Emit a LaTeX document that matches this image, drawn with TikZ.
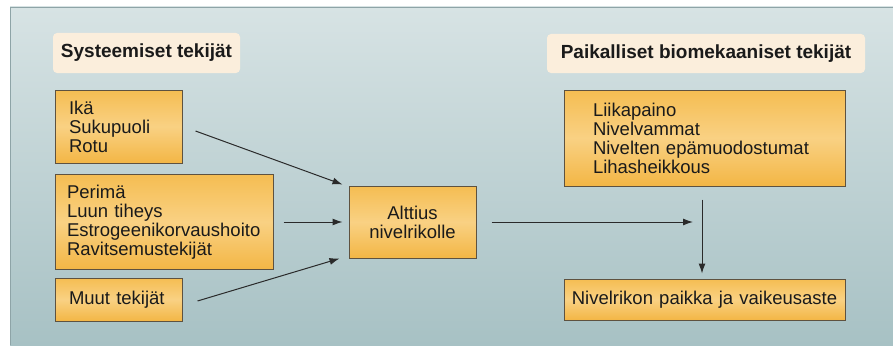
\documentclass[tikz,border=0pt]{standalone}
\usepackage{fontspec}
\setmainfont{Liberation Sans}
\usetikzlibrary{arrows.meta}
\definecolor{paneltop}{HTML}{D7E3E4}
\definecolor{panelbot}{HTML}{A7C1C4}
\definecolor{boxtop}{HTML}{F5BD52}
\definecolor{boxmid}{HTML}{F9D183}
\definecolor{boxbot}{HTML}{F3B645}
\definecolor{boxline}{HTML}{5E5240}
\definecolor{headfill}{HTML}{FBEEDC}
\definecolor{arrcol}{HTML}{2A2A2A}
\definecolor{txt}{HTML}{1A1A1A}
\tikzset{
  box/.style={draw=boxline, line width=1pt, top color=boxtop, bottom color=boxbot, middle color=boxmid,
    rectangle, inner ysep=0pt, align=left, text=txt,
    font=\fontsize{18.5}{19}\selectfont},
  head/.style={fill=headfill, rounded corners=4pt, inner sep=0pt, text=txt,
    font=\fontsize{19}{20}\selectfont\bfseries},
  arr/.style={draw=arrcol, line width=1pt, -{Latex[length=10pt,width=7pt]}}
}
\begin{document}
\begin{tikzpicture}[x=1pt,y=-1pt]
\useasboundingbox (0,0) rectangle (893,345);
\fill[top color=paneltop, bottom color=panelbot] (10,7) rectangle (893,345);
\draw[draw=panelbot!85!black, line width=0.8pt] (10,345) -- (10,7) -- (893,7);

\node[head, minimum width=187, minimum height=40] (h1) at (146.5,53) {Systeemiset tekijät};
\node[head, minimum width=318, minimum height=39] (h2) at (706,53.5) {Paikalliset biomekaaniset tekijät};

\node[box, minimum width=127, minimum height=73, inner xsep=14, text width=99] (b1) at (118.5,126.5)
  {Ikä\\Sukupuoli\\Rotu};
\node[box, minimum width=218, minimum height=95, inner xsep=12, text width=194] (b2) at (164,222)
  {Perimä\\Luun tiheys\\Estrogeenikorvaushoito\\Ravitsemustekijät};
\node[box, minimum width=127, minimum height=43, inner xsep=14, text width=99] (b3) at (118.5,299.5)
  {Muut tekijät};
\node[box, minimum width=127, minimum height=72, inner xsep=10, text width=107, align=center] (c) at (412.5,222)
  {Alttius\\nivelrikolle};
\node[box, minimum width=281, minimum height=96, inner xsep=29, text width=223] (r1) at (704.5,138)
  {Liikapaino\\Nivelvammat\\Nivelten epämuodostumat\\Lihasheikkous};
\node[box, minimum width=281, minimum height=41, inner xsep=0, text width=281, align=center] (r2) at (704.5,299.5)
  {Nivelrikon paikka ja vaikeusaste};

\coordinate (j) at ([xshift=-2.5pt]r1.south |- c.east);

\draw[arr] ([xshift=13pt,yshift=-4.5pt]b1.east) -- ([xshift=-6pt,yshift=1pt]c.north west);
\draw[arr] ([xshift=10pt]b2.east) -- ([xshift=-6pt]c.west);
\draw[arr] ([xshift=15pt,yshift=-1.5pt]b3.east) -- ([xshift=-9pt]c.south west);
\draw[arr] ([xshift=15pt]c.east) -- ([xshift=-9pt]j);
\draw[arr] ([xshift=-2.5pt,yshift=-13pt]r1.south) -- ([xshift=-2.5pt,yshift=5pt]r2.north);
\end{tikzpicture}
\end{document}
